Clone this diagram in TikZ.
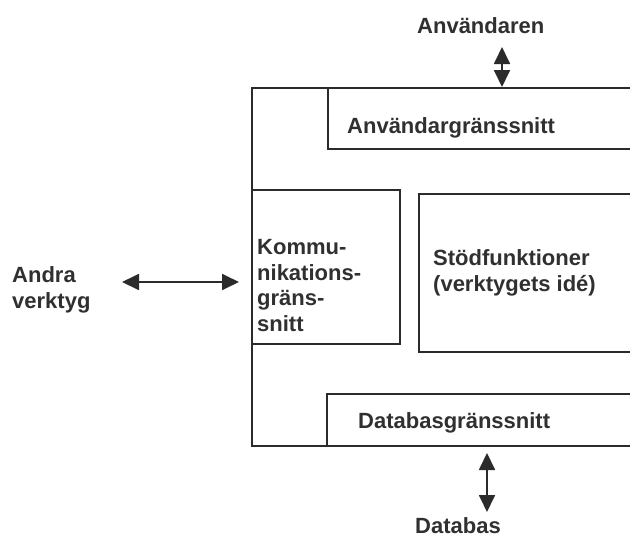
\documentclass[tikz,border=0pt]{standalone}
\usepackage{fontspec}
\setmainfont{Liberation Sans}
\usetikzlibrary{arrows.meta}
\definecolor{ink}{HTML}{2B2B2B}
\definecolor{txt}{HTML}{303030}
\begin{document}
\begin{tikzpicture}[x=1pt,y=-1pt,
  part/.style={draw=ink,line width=1.5pt,rectangle,inner sep=0pt,anchor=north west},
  lbl/.style={text=txt,font=\fontsize{22}{25.5}\selectfont\bfseries,inner sep=0pt,anchor=base west,align=left},
  biarrow/.style={draw=ink,line width=1.8pt,{Triangle[length=17pt,width=16pt]}-{Triangle[length=17pt,width=16pt]}}]
\clip (0,0) rectangle (630,538);
\fill[white] (0,0) rectangle (630,538);
% the tool and its parts (they run on past the right edge)
\node[part,minimum width=420pt,minimum height=358pt] (tool) at (251,87) {};
\node[part,minimum width=340pt,minimum height=61pt]  (ui)   at (327,87) {};
\node[part,minimum width=148pt,minimum height=154pt] (comm) at (251,189) {};
\node[part,minimum width=250pt,minimum height=158pt] (core) at (418,193) {};
\node[part,minimum width=340pt,minimum height=52pt]  (db)   at (326,393) {};
% labels (a multi-line label sits on the baseline of its last line)
\node[lbl] (uitxt)   at (347,133) {Användargränssnitt};
\node[lbl] (commtxt) at (257,331) {Kommu-\\nikations-\\gräns-\\snitt};
\node[lbl] (coretxt) at (433,291) {Stödfunktioner\\(verktygets idé)};
\node[lbl] (dbtxt)   at (358,428) {Databasgränssnitt};
\node[lbl] (user)    at (417,33)  {Användaren};
\node[lbl] (base)    at (415,533) {Databas};
\node[lbl] (other)   at (12,308)  {Andra\\verktyg};
% connections to the outside
\coordinate (uEnd) at (502,47);
\coordinate (dTop) at (487,453);
\coordinate (dEnd) at (487,512);
\coordinate (oEnd) at (122,282);
\coordinate (oTip) at (239,282);
\draw[biarrow] (uEnd) -- (uEnd |- tool.north);
\draw[biarrow] (dTop) -- (dEnd);
\draw[biarrow] (oEnd) -- (oTip);
\end{tikzpicture}
\end{document}
